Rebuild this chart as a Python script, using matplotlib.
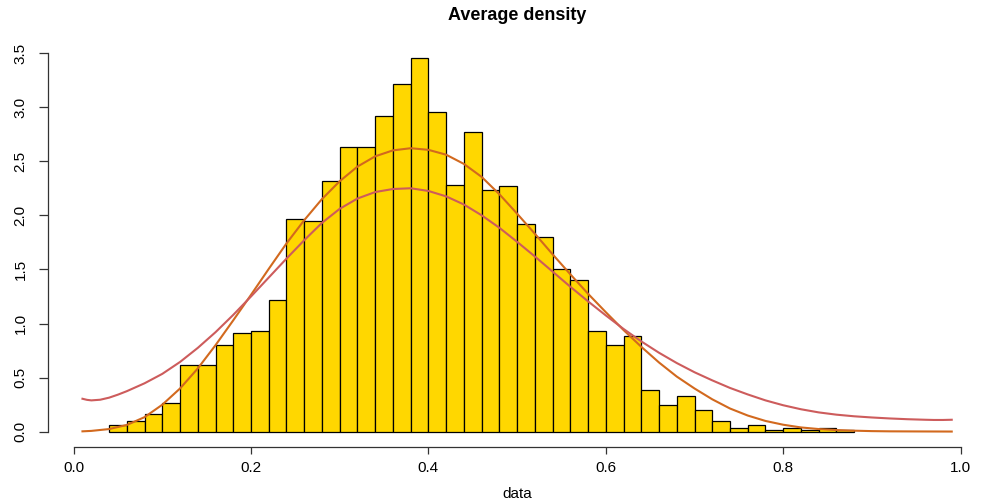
import numpy as np
import matplotlib
matplotlib.use("Agg")
import matplotlib.pyplot as plt

plt.rcParams['font.family'] = ['Liberation Sans', 'DejaVu Sans']

# Histogram: bin width 0.02, left edges from 0.04 to 0.86
bin_width = 0.02
bin_left = np.round(np.arange(0.04, 0.87, 0.02), 2)
density = [0.0667, 0.1, 0.1667, 0.2667, 0.6167, 0.6167, 0.8, 0.9167, 0.9333, 1.2167,
           1.9667, 1.95, 2.3167, 2.6333, 2.6333, 2.9167, 3.2167, 3.45,
           2.95, 2.2833, 2.7667, 2.2333, 2.2667, 1.9167, 1.8, 1.5, 1.4,
           0.9333, 0.8, 0.8833, 0.3833, 0.25, 0.3333, 0.2, 0.1, 0.0333, 0.0667,
           0.0167, 0.0333, 0.0167, 0.0333, 0.0167]

# Curve 1 (narrower, orange-brown)
curve1_x = [0.01, 0.02, 0.04, 0.06, 0.08, 0.10, 0.12, 0.14, 0.16, 0.18, 0.20, 0.22, 0.24,
            0.26, 0.28, 0.30, 0.32, 0.34, 0.36, 0.38, 0.40, 0.42, 0.44, 0.46, 0.48,
            0.50, 0.52, 0.54, 0.56, 0.58, 0.60, 0.62, 0.64, 0.66, 0.68, 0.70, 0.72,
            0.74, 0.76, 0.78, 0.80, 0.82, 0.84, 0.86, 0.88, 0.90, 0.92, 0.95, 0.99]
curve1_y = [0.004, 0.008, 0.025, 0.063, 0.135, 0.25, 0.40, 0.585, 0.80, 1.03, 1.265, 1.505, 1.74,
            1.955, 2.15, 2.315, 2.45, 2.545, 2.60, 2.62, 2.605, 2.56, 2.475, 2.355, 2.195,
            2.015, 1.83, 1.64, 1.455, 1.275, 1.105, 0.94, 0.785, 0.64, 0.51, 0.40, 0.30,
            0.215, 0.15, 0.10, 0.065, 0.04, 0.025, 0.016, 0.01, 0.006, 0.004, 0.003, 0.002]

# Curve 2 (wider, heavier tails, indian red)
curve2_x = [0.01, 0.015, 0.02, 0.03, 0.04, 0.05, 0.06, 0.08, 0.10, 0.12, 0.14, 0.16, 0.18,
            0.20, 0.22, 0.24, 0.26, 0.28, 0.30, 0.32, 0.34, 0.36, 0.38, 0.40, 0.42,
            0.44, 0.46, 0.48, 0.50, 0.52, 0.54, 0.56, 0.58, 0.60, 0.62, 0.64, 0.66,
            0.68, 0.70, 0.72, 0.74, 0.76, 0.78, 0.80, 0.82, 0.84, 0.86, 0.88, 0.90,
            0.92, 0.94, 0.96, 0.97, 0.98, 0.99]
curve2_y = [0.305, 0.295, 0.29, 0.296, 0.315, 0.343, 0.375, 0.448, 0.535, 0.645, 0.775, 0.92, 1.08,
            1.25, 1.425, 1.60, 1.77, 1.93, 2.06, 2.155, 2.215, 2.243, 2.25, 2.225, 2.175,
            2.10, 2.00, 1.885, 1.755, 1.62, 1.48, 1.34, 1.205, 1.075, 0.95, 0.835, 0.73,
            0.635, 0.55, 0.475, 0.405, 0.345, 0.29, 0.245, 0.208, 0.179, 0.158, 0.143, 0.132,
            0.123, 0.116, 0.111, 0.109, 0.109, 0.111]

x_ticks = [0.0, 0.2, 0.4, 0.6, 0.8, 1.0]
x_ticklabels = ["0.0", "0.2", "0.4", "0.6", "0.8", "1.0"]
y_ticks = [0.0, 0.5, 1.0, 1.5, 2.0, 2.5, 3.0, 3.5]
y_ticklabels = ["0.0", "0.5", "1.0", "1.5", "2.0", "2.5", "3.0", "3.5"]

W, H = 981, 504
fig = plt.figure(figsize=(W / 100, H / 100), dpi=100)
left_px, right_px = 47.7, 960.6
top_px, bottom_px = 42.8, 446.7
ax = fig.add_axes([left_px / W, 1 - bottom_px / H, (right_px - left_px) / W, (bottom_px - top_px) / H])

ax.bar(bin_left, density, width=bin_width, align='edge', color='#FFD700',
       edgecolor='black', linewidth=0.9, zorder=2)
ax.plot(curve1_x, curve1_y, color='#D2691E', lw=1.5, zorder=3, solid_joinstyle='round')
ax.plot(curve2_x, curve2_y, color='#CD5C5C', lw=1.5, zorder=3, solid_joinstyle='round')

ax.set_xlim(-0.0292, 1.0)
ax.set_ylim(-0.138, 3.594)

for s in ['top', 'right']:
    ax.spines[s].set_visible(False)
ax.spines['bottom'].set_bounds(0, 1)
ax.spines['left'].set_bounds(0, 3.5)
for s in ['bottom', 'left']:
    ax.spines[s].set_color('#333333')
    ax.spines[s].set_linewidth(0.9)

ax.set_xticks(x_ticks)
ax.set_xticklabels(x_ticklabels, fontsize=11)
ax.set_yticks(y_ticks)
ax.set_yticklabels(y_ticklabels, fontsize=11, rotation=90, va='center')
ax.tick_params(axis='x', length=5, width=0.9, color='#333333', pad=5)
ax.tick_params(axis='y', length=6.5, width=0.9, color='#333333', pad=8)

fig.text(517 / W, 1 - 15 / H, "Average density", ha='center', va='center',
         fontsize=13, fontweight='bold')
fig.text(517 / W, 1 - 494 / H, "data", ha='center', va='center', fontsize=11)

fig.savefig("out.png", dpi=100)
